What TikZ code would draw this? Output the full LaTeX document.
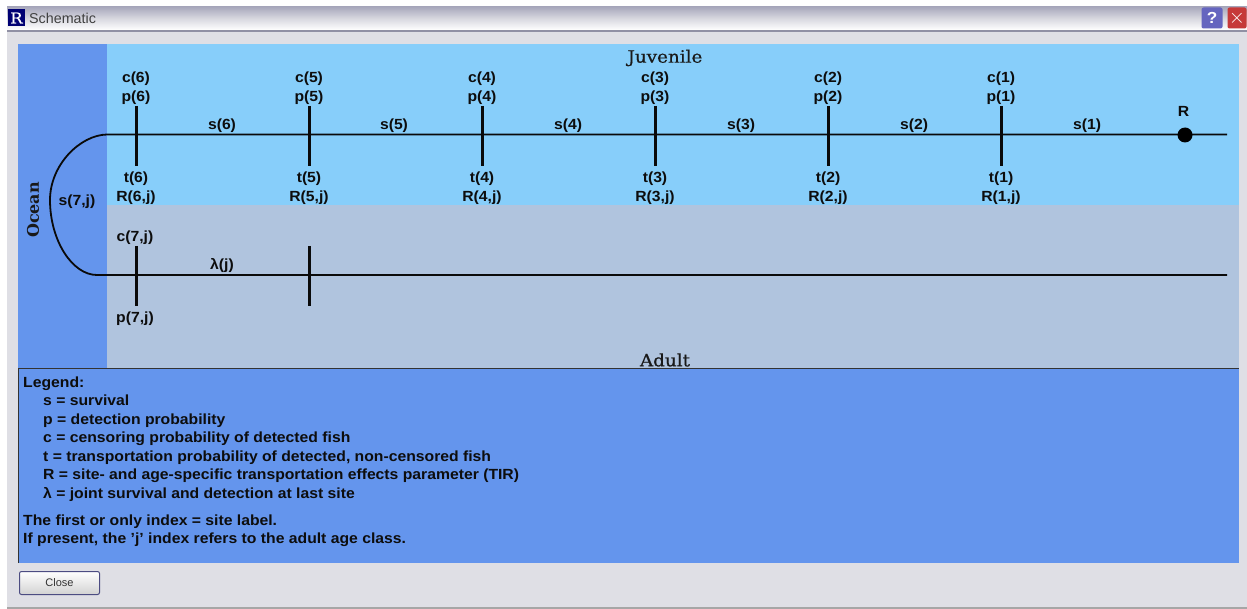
\documentclass[tikz,border=0pt]{standalone}
\usepackage{fontspec}
\setmainfont{Liberation Sans Bold}[FakeStretch=1.07]
\newfontfamily\serifb{DejaVu Serif}[FakeBold=0.6,FakeStretch=1.08]
\newfontfamily\serifbb{DejaVu Serif Bold}
\newfontfamily\plainui{Liberation Sans}
\definecolor{chrome}{HTML}{DFDFE5}
\definecolor{ocean}{HTML}{6495ED}
\definecolor{juv}{HTML}{87CEFA}
\definecolor{adult}{HTML}{B0C4DE}
\definecolor{inkline}{HTML}{0A0A0A}
\definecolor{bartop}{HTML}{A8A8BC}
\definecolor{barmid}{HTML}{D8D8E0}
\definecolor{barline}{HTML}{9090A4}
\tikzset{
 x=1pt,y=-1pt,
 wire/.style={draw=inkline,line width=1.8pt},
 tick/.style={draw=inkline,line width=3pt},
 lbl/.style={font=\fontsize{14.7}{18}\selectfont,text=black!95,inner sep=0pt,anchor=center,text height=11pt,text depth=3pt},
 legend/.style={font=\fontsize{14.7}{18}\selectfont,text=black!95,inner sep=0pt,anchor=base west},
 head/.style={font=\fontsize{17}{20}\selectfont\serifb,text=black!90,inner sep=0pt}
}
\begin{document}
\begin{tikzpicture}
\useasboundingbox (0,0) rectangle (1247,609);
\fill[white] (0,0) rectangle (1247,609);
\fill[chrome] (7,32) rectangle (1247,607);
\shade[top color=bartop, bottom color=white, middle color=barmid] (7,7) rectangle (1247,30);
\fill[barline] (7,30) rectangle (1247,32);
\fill[gray!70] (7,607) rectangle (1247,609);
% Window icons
\node[fill=blue!45!black,text=white,font=\fontsize{15}{15}\selectfont\serifb,minimum width=17pt,minimum height=17pt,inner sep=0pt] (rlogo) at (16.5,18) {R};
\node[anchor=west,font=\fontsize{14.3}{16}\selectfont\plainui,text=black!75,inner sep=0pt] (title) at (29,18) {Schematic};
\node[fill=barline!70!blue,rounded corners=2pt,minimum width=21pt,minimum height=21pt,inner sep=0pt,text=white,font=\fontsize{16}{16}\selectfont] (help) at (1212,18) {?};
\node[fill=red!55!gray,rounded corners=2pt,minimum width=19pt,minimum height=21pt,inner sep=0pt,text=white,font=\fontsize{20}{20}\selectfont] (closex) at (1237,18) {$\times$};
% panels
\fill[ocean] (18,44) rectangle (107,368);
\fill[juv] (107,44) rectangle (1239,205);
\fill[adult] (107,205) rectangle (1239,368);
\fill[ocean] (18,369) rectangle (1239,563);
\draw[black!80,line width=1pt] (18,563) -- (18,368.5) -- (1239,368.5);
% headings
\node[head] (juvh) at (665,58) {Juvenile};
\node[head] (adh) at (665,360) {Adult};
\node[head,font=\fontsize{16}{19}\selectfont\serifbb,rotate=90] (oc) at (33,210) {Ocean};
% wires
\coordinate (jl) at (107,134.5);
\coordinate (jr) at (1227,134.5);
\coordinate (al) at (97,275);
\coordinate (ar) at (1227,275);
\draw[wire] (jr) -- (jl) .. controls (80,135) and (50,165) .. (50,200) .. controls (50,240) and (72,275) .. (al) -- (ar);
\node[fill=black,circle,minimum size=15pt,inner sep=0pt] (rdot) at (1185,135) {};
\node[lbl] (rl) at (1183.5,113) {R};
% sites
\foreach \n/\x/\sx in {6/136/222,5/309/394,4/482/568,3/655/741,2/828/914,1/1001/1087}{
  \coordinate (top\n) at (\x,106);
  \coordinate (bot\n) at (\x,166);
  \draw[tick] (top\n) -- (bot\n);
  \node[lbl] (c\n) at (\x,79) {c(\n)};
  \node[lbl] (p\n) at (\x,98) {p(\n)};
  \node[lbl] (t\n) at (\x,179) {t(\n)};
  \node[lbl] (R\n) at (\x,197.5) {R(\n,j)};
  \node[lbl] (s\n) at (\sx,126) {s(\n)};
}
\node[lbl] (s7) at (77,202) {s(7,j)};
\coordinate (a1t) at (136,246);
\coordinate (a1b) at (136,306);
\coordinate (a2t) at (309,246);
\coordinate (a2b) at (309,306);
\draw[tick] (a1t) -- (a1b);
\draw[tick] (a2t) -- (a2b);
\node[lbl] (c7) at (135,238) {c(7,j)};
\node[lbl] (p7) at (135,319) {p(7,j)};
\node[lbl] (lam) at (222,266) {λ(j)};
% legend
\foreach \y/\x/\t in {
 387.5/23/Legend:,
 405.5/43/s = survival,
 424/43/p = detection probability,
 442.5/43/c = censoring probability of detected fish,
 461/43/t = transportation probability of detected{,} non-censored fish,
 479.5/43/R = site- and age-specific transportation effects parameter (TIR),
 498/43/λ = joint survival and detection at last site,
 525/23/The first or only index = site label.,
 543/23/If present{,} the 'j' index refers to the adult age class.}{
 \node[legend] at (\x,\y) {\t};
}
\node[draw=blue!30!black!70,line width=1pt,rounded corners=2pt,top color=white,bottom color=gray!35,minimum width=80pt,minimum height=23pt,inner sep=0pt,font=\fontsize{11}{13}\selectfont\plainui,text=black!80] (closeb) at (59.5,583) {Close};
\end{tikzpicture}
\end{document}
